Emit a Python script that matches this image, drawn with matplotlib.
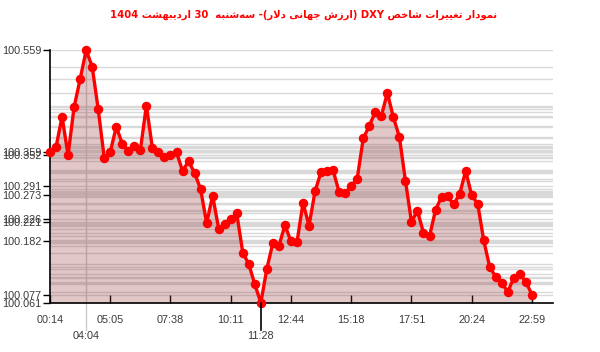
import matplotlib
matplotlib.use("Agg")
import matplotlib.pyplot as plt

# ---------------- data ----------------
title_text = "نمودار تغییرات شاخص DXY (ارزش جهانی دلار)- سه\u200cشنبه  30 اردیبهشت 1404"

values = [
    100.359, 100.368, 100.428, 100.352, 100.447, 100.502, 100.559, 100.527, 100.443, 100.347,
    100.358, 100.408, 100.375, 100.360, 100.370, 100.362, 100.450, 100.366, 100.359, 100.348,
    100.352, 100.358, 100.321, 100.340, 100.317, 100.285, 100.218, 100.272, 100.207, 100.216,
    100.226, 100.237, 100.160, 100.137, 100.097, 100.061, 100.128, 100.179, 100.173, 100.214,
    100.182, 100.180, 100.258, 100.213, 100.281, 100.319, 100.320, 100.322, 100.279, 100.277,
    100.291, 100.306, 100.385, 100.410, 100.437, 100.429, 100.475, 100.427, 100.388, 100.302,
    100.221, 100.242, 100.199, 100.192, 100.244, 100.270, 100.271, 100.255, 100.275, 100.321,
    100.273, 100.256, 100.184, 100.131, 100.112, 100.099, 100.083, 100.110, 100.118, 100.102,
    100.077,
]

x_tick_labels = ["00:14", "05:05", "07:38", "10:11", "12:44", "15:18", "17:51", "20:24", "22:59"]
max_time_label = "04:04"
min_time_label = "11:28"

y_tick_values = [100.559, 100.359, 100.352, 100.291, 100.273, 100.226, 100.221, 100.182, 100.077, 100.061]

# ---------------- Arabic/Persian shaping (for visual RTL rendering) ----------------
FORMS = {
    '\u0627': ('\uFE8D', '\uFE8E', None, None),
    '\u0628': ('\uFE8F', '\uFE90', '\uFE91', '\uFE92'),
    '\u062A': ('\uFE95', '\uFE96', '\uFE97', '\uFE98'),
    '\u062C': ('\uFE9D', '\uFE9E', '\uFE9F', '\uFEA0'),
    '\u062E': ('\uFEA5', '\uFEA6', '\uFEA7', '\uFEA8'),
    '\u062F': ('\uFEA9', '\uFEAA', None, None),
    '\u0631': ('\uFEAD', '\uFEAE', None, None),
    '\u0632': ('\uFEAF', '\uFEB0', None, None),
    '\u0633': ('\uFEB1', '\uFEB2', '\uFEB3', '\uFEB4'),
    '\u0634': ('\uFEB5', '\uFEB6', '\uFEB7', '\uFEB8'),
    '\u0635': ('\uFEB9', '\uFEBA', '\uFEBB', '\uFEBC'),
    '\u063A': ('\uFECD', '\uFECE', '\uFECF', '\uFED0'),
    '\u0644': ('\uFEDD', '\uFEDE', '\uFEDF', '\uFEE0'),
    '\u0645': ('\uFEE1', '\uFEE2', '\uFEE3', '\uFEE4'),
    '\u0646': ('\uFEE5', '\uFEE6', '\uFEE7', '\uFEE8'),
    '\u0647': ('\uFEE9', '\uFEEA', '\uFEEB', '\uFEEC'),
    '\u0648': ('\uFEED', '\uFEEE', None, None),
    '\u06CC': ('\uFBFC', '\uFBFD', '\uFBFE', '\uFBFF'),
}


def shape_rtl(text):
    chars = list(text)
    out = []
    i = 0
    n = len(chars)
    while i < n:
        c = chars[i]
        if c not in FORMS:
            if c != '\u200c':
                out.append(c)
            i += 1
            continue
        prev = chars[i - 1] if i > 0 else None
        joins_prev = prev in FORMS and FORMS[prev][2] is not None
        if c == '\u0644' and i + 1 < n and chars[i + 1] == '\u0627':
            out.append('\uFEFC' if joins_prev else '\uFEFB')
            i += 2
            continue
        nxt = chars[i + 1] if i + 1 < n else None
        joins_next = FORMS[c][2] is not None and nxt in FORMS
        iso, fin, ini, med = FORMS[c]
        if joins_prev and joins_next:
            out.append(med)
        elif joins_prev:
            out.append(fin)
        elif joins_next:
            out.append(ini)
        else:
            out.append(iso)
        i += 1
    s = ''.join(out)[::-1]
    # restore LTR runs
    res = []
    run = []
    for ch in s:
        if ch.isascii() and ch.isalnum():
            run.append(ch)
        else:
            if run:
                res.extend(run[::-1])
                run = []
            res.append({'(': ')', ')': '('}.get(ch, ch))
    if run:
        res.extend(run[::-1])
    return ''.join(res)


# ---------------- plot ----------------
fig = plt.figure(figsize=(6.0, 3.52), dpi=100)
ax = fig.add_axes([50 / 600, 1 - 302.7 / 352, 503 / 600, 252.4 / 352])

n = len(values)
xs = list(range(n))
ymin, ymax = min(values), max(values)
imax = values.index(ymax)
imin = values.index(ymin)

# horizontal gridlines at every value
for v in values:
    ax.axhline(v, color='#d9d9d9', lw=1.0, zorder=1)

ax.axvline(imax, ymin=-0.108, ymax=1, color='#cccccc', lw=1.0, zorder=1, clip_on=False)

ax.fill_between(xs, values, ymin, color=(0.55, 0.16, 0.16), alpha=0.26, lw=0, zorder=2)
ax.plot(xs, values, color='#ff0000', lw=2.4, marker='o', markersize=5.8,
        markerfacecolor='#ff0000', markeredgecolor='#ff0000', zorder=4, clip_on=False,
        solid_joinstyle='round')

ax.set_xlim(0, 83.5)
ax.set_ylim(ymin, ymax)

for s in ['top', 'right']:
    ax.spines[s].set_visible(False)
ax.spines['left'].set_color('black')
ax.spines['bottom'].set_color('black')
ax.spines['left'].set_linewidth(1.2)
ax.spines['bottom'].set_linewidth(1.2)

tick_font = dict(family=['Liberation Sans', 'DejaVu Sans'], size=7.8, color='#3a3a3a')

ax.set_yticks(y_tick_values)
ax.set_yticklabels([f"{v:.3f}" for v in y_tick_values], **tick_font)
ax.tick_params(axis='y', direction='out', length=5, width=1, pad=1, colors='black')
for t in ax.get_yticklabels():
    t.set_color('#3a3a3a')

ax.set_xticks(list(range(0, n, 10)))
ax.set_xticklabels(x_tick_labels, **tick_font)
ax.tick_params(axis='x', direction='in', length=6, width=1, pad=9, colors='black')
for t in ax.get_xticklabels():
    t.set_color('#3a3a3a')

# special labels for max and min
ax.axvline(imin, ymin=-0.108, ymax=0, color='black', lw=1.2, clip_on=False, zorder=5)
ax.text(imax, ymin - 0.133 * (ymax - ymin), max_time_label, ha='center', va='center', **tick_font)
ax.text(imin, ymin - 0.133 * (ymax - ymin), min_time_label, ha='center', va='center', **tick_font)

fig.text(304 / 600, 1 - 15 / 352, shape_rtl(title_text), ha='center', va='center',
         color='#ff0000', fontsize=7.2, fontweight='bold', family=['DejaVu Sans'])

fig.savefig('out.png', dpi=100)
